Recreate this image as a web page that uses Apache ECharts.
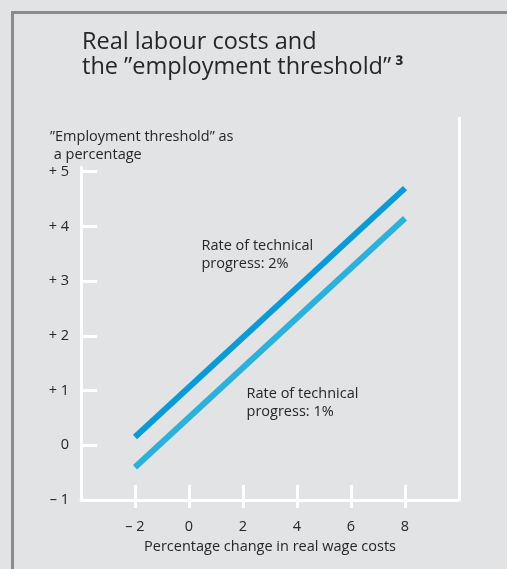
<!DOCTYPE html>
<html>
<head>
<meta charset="utf-8">
<script src="https://cdn.jsdelivr.net/npm/echarts@6/dist/echarts.min.js"></script>
<style>
html,body{margin:0;padding:0;background:#e2e3e5;}
#c{width:507px;height:569px;}
</style>
</head>
<body>
<div id="c"></div>
<script>
// ---- data ----
var xTickValues = [-2, 0, 2, 4, 6, 8];
var xTickLabels = ['– 2', '0', '2', '4', '6', '8'];
var yTickValues = [-1, 0, 1, 2, 3, 4, 5];
var yTickLabels = ['– 1', '0', '+ 1', '+ 2', '+ 3', '+ 4', '+ 5'];
var seriesNames = ['Rate of technical progress: 2%', 'Rate of technical progress: 1%'];
var wageChange = [-2, 8];
var threshold2pct = [0.15, 4.7];
var threshold1pct = [-0.4, 4.15];
var titleLines = ['Real labour costs and', 'the ”employment threshold”'];
var yAxisName = ['”Employment threshold” as', ' a percentage'];
var xAxisName = 'Percentage change in real wage costs';
var label2pct = ['Rate of technical', 'progress: 2%'];
var label1pct = ['Rate of technical', 'progress: 1%'];
var label2pctAt = [0.48, 3.8];
var label1pctAt = [2.15, 1.1];

var FONT = '"Open Sans", "Noto Sans", sans-serif';
var TXT = '#262626';
var WHITE = '#ffffff';
var FS = 14.5;

function pairs(xs, ys) { return xs.map(function (x, i) { return [x, ys[i]]; }); }
function fmt(values, labels) { return function (v) { var i = values.indexOf(v); return i < 0 ? '' : labels[i]; }; }

var chart = echarts.init(document.getElementById('c'), null, {renderer: 'canvas'});
var frameLine = {color: WHITE, width: 3, type: 'solid'};

chart.setOption({
  backgroundColor: '#e2e3e5',
  animation: false,
  title: [
    {
      text: titleLines[0] + '\n' + titleLines[1] + '{sup|³}',
      left: 77, top: 25,
      textStyle: {fontFamily: FONT, fontSize: 23.5, fontWeight: 'normal', color: TXT, lineHeight: 25,
        rich: {sup: {fontFamily: FONT, fontSize: 22, fontWeight: 'bold', color: TXT, lineHeight: 25, padding: [0, 0, 0, 4]}}}
    },
    {
      text: yAxisName.join('\n'),
      left: 45, top: 123,
      textStyle: {fontFamily: FONT, fontSize: FS, fontWeight: 'normal', color: TXT, lineHeight: 18}
    }
  ],
  graphic: [
    {type: 'rect', shape: {x: 12.5, y: 12.5, width: 600, height: 600},
     style: {fill: null, stroke: '#8b8b8b', lineWidth: 3}, silent: true}
  ],
  grid: {left: 81, right: 48, top: 117, bottom: 69},
  xAxis: [
    {
      type: 'value', min: -4, max: 10, interval: 2, position: 'bottom',
      axisLine: {show: true, onZero: false, lineStyle: {color: WHITE, width: 3}},
      axisTick: {show: true, inside: true, length: 15, customValues: xTickValues, lineStyle: {color: WHITE, width: 3}},
      axisLabel: {customValues: xTickValues, formatter: fmt(xTickValues, xTickLabels), color: TXT, fontFamily: FONT, fontSize: FS, margin: 19},
      splitLine: {show: false},
      name: xAxisName, nameLocation: 'middle', nameGap: 38,
      nameTextStyle: {color: TXT, fontFamily: FONT, fontSize: FS}
    },
    {
      type: 'value', min: -4, max: 10, interval: 2, position: 'bottom',
      axisLine: {show: false, onZero: false},
      axisTick: {show: true, inside: false, length: 8, customValues: xTickValues, lineStyle: {color: WHITE, width: 3}},
      axisLabel: {show: false},
      splitLine: {show: false}
    }
  ],
  yAxis: {
    type: 'value', min: -1, max: 6, interval: 1,
    axisLine: {show: false, onZero: false},
    axisTick: {show: true, inside: true, length: 16, customValues: yTickValues, lineStyle: {color: WHITE, width: 3}},
    axisLabel: {customValues: yTickValues, formatter: fmt(yTickValues, yTickLabels), color: TXT, fontFamily: FONT, fontSize: FS, margin: 12},
    splitLine: {show: false}
  },
  series: [
    {
      name: seriesNames[0], type: 'line', clip: false, symbol: 'none', z: 3,
      data: pairs(wageChange, threshold2pct),
      lineStyle: {color: '#0a9ad5', width: 6},
      markLine: {
        silent: true, symbol: 'none', animation: false, z: 1,
        label: {show: false}, lineStyle: frameLine,
        data: [
          [{coord: [-4, -1]}, {coord: [-4, 5.1]}],
          [{coord: [-4.08, 6]}, {coord: [10, 6]}],
          [{coord: [10, 6]}, {coord: [10, -1]}]
        ]
      },
      markPoint: {
        silent: true, symbol: 'rect', symbolSize: 1, itemStyle: {color: 'transparent'},
        label: {show: true, position: [0, 0], align: 'left', verticalAlign: 'top', color: TXT, fontFamily: FONT, fontSize: FS, lineHeight: 18,
          formatter: function () { return label2pct.join('\n'); }},
        data: [{coord: label2pctAt}]
      }
    },
    {
      name: seriesNames[1], type: 'line', clip: false, symbol: 'none', z: 3,
      data: pairs(wageChange, threshold1pct),
      lineStyle: {color: '#2cb1db', width: 6},
      markPoint: {
        silent: true, symbol: 'rect', symbolSize: 1, itemStyle: {color: 'transparent'},
        label: {show: true, position: [0, 0], align: 'left', verticalAlign: 'top', color: TXT, fontFamily: FONT, fontSize: FS, lineHeight: 18,
          formatter: function () { return label1pct.join('\n'); }},
        data: [{coord: label1pctAt}]
      }
    }
  ]
});
</script>
</body>
</html>
